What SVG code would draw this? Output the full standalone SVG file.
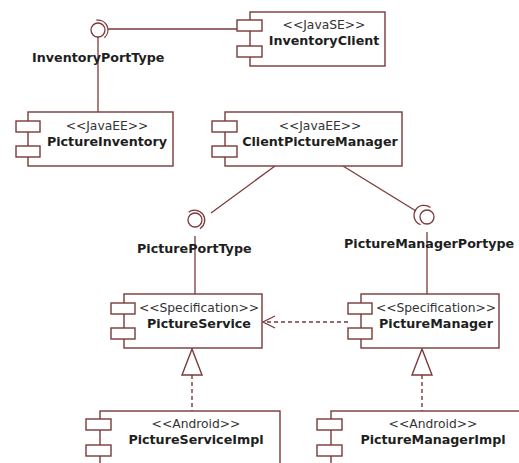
<svg xmlns="http://www.w3.org/2000/svg" width="519" height="463" viewBox="0 0 519 463">
<style>
.box{fill:#fff;stroke:#7a3a3a;stroke-width:1.4}
.ln{fill:none;stroke:#7a3a3a;stroke-width:1.3}
.dash{fill:none;stroke:#7a3a3a;stroke-width:1.4;stroke-dasharray:4 3}
.st{font-family:"DejaVu Sans",sans-serif;font-size:12.3px;fill:#333;text-anchor:middle}
.nm{font-family:"DejaVu Sans",sans-serif;font-size:12.7px;font-weight:bold;fill:#1e1e1e;text-anchor:middle}
.lb{font-family:"DejaVu Sans",sans-serif;font-size:12.7px;font-weight:bold;fill:#1e1e1e}
</style>
<rect width="519" height="463" fill="#fff"/>
<g id="connectors">
<line class="ln" x1="108" y1="29" x2="237" y2="29"/>
<line class="ln" x1="98" y1="37" x2="98" y2="112"/>
<line class="ln" x1="275" y1="166" x2="211" y2="213"/>
<line class="ln" x1="195" y1="236" x2="195" y2="294"/>
<line class="ln" x1="343" y1="166" x2="416" y2="211"/>
<line class="ln" x1="427" y1="232" x2="427" y2="294"/>
<line class="dash" x1="348" y1="322" x2="265" y2="322"/>
<polyline class="ln" points="275,316 263,322 275,328"/>
<line class="dash" x1="192" y1="375" x2="192" y2="411"/>
<polygon class="box" points="192,349 182,375 202,375"/>
<line class="dash" x1="422" y1="375" x2="422" y2="411"/>
<polygon class="box" points="422,349 412,375 432,375"/>
</g>
<g id="InventoryPortType">
<circle class="ln" cx="98" cy="30" r="7"/>
<path class="ln" d="M96.3,20.2 A10,10 0 0 1 104.4,37.7"/>
<text class="lb" x="32" y="62">InventoryPortType</text>
</g>
<g id="PicturePortType">
<circle class="ln" cx="195" cy="220" r="7"/>
<path class="ln" d="M188.6,212.3 A10,10 0 1 1 200,228.7"/>
<text class="lb" x="137" y="253">PicturePortType</text>
</g>
<g id="PictureManagerPortype">
<circle class="ln" cx="427" cy="217" r="7"/>
<path class="ln" d="M430.4,207.6 A10,10 0 1 0 420.6,224.7"/>
<text class="lb" x="344" y="248">PictureManagerPortype</text>
</g>
<g id="InventoryClient">
<rect class="box" x="250" y="12" width="135" height="54"/>
<rect class="box" x="237" y="20" width="25" height="11"/>
<rect class="box" x="237" y="46" width="25" height="11"/>
<text class="st" x="324" y="29">&lt;&lt;JavaSE&gt;&gt;</text>
<text class="nm" x="324" y="45">InventoryClient</text>
</g>
<g id="PictureInventory">
<rect class="box" x="28" y="112" width="145" height="54"/>
<rect class="box" x="16" y="121" width="24" height="11"/>
<rect class="box" x="16" y="146" width="24" height="11"/>
<text class="st" x="107" y="130">&lt;&lt;JavaEE&gt;&gt;</text>
<text class="nm" x="107" y="146">PictureInventory</text>
</g>
<g id="ClientPictureManager">
<rect class="box" x="225" y="112" width="177" height="54"/>
<rect class="box" x="212" y="121" width="25" height="11"/>
<rect class="box" x="212" y="146" width="25" height="11"/>
<text class="st" x="320" y="130">&lt;&lt;JavaEE&gt;&gt;</text>
<text class="nm" x="320" y="146">ClientPictureManager</text>
</g>
<g id="PictureService">
<rect class="box" x="124" y="294" width="138" height="54"/>
<rect class="box" x="111" y="303" width="24" height="11"/>
<rect class="box" x="111" y="328" width="24" height="11"/>
<text class="st" x="199" y="312">&lt;&lt;Specification&gt;&gt;</text>
<text class="nm" x="199" y="328">PictureService</text>
</g>
<g id="PictureManager">
<rect class="box" x="361" y="294" width="138" height="54"/>
<rect class="box" x="348" y="303" width="24" height="11"/>
<rect class="box" x="348" y="328" width="24" height="11"/>
<text class="st" x="436" y="312">&lt;&lt;Specification&gt;&gt;</text>
<text class="nm" x="436" y="328">PictureManager</text>
</g>
<g id="PictureServiceImpl">
<rect class="box" x="100" y="411" width="180" height="60"/>
<rect class="box" x="86" y="419" width="25" height="11"/>
<rect class="box" x="86" y="445" width="25" height="11"/>
<text class="st" x="196" y="428">&lt;&lt;Android&gt;&gt;</text>
<text class="nm" x="196" y="444">PictureServiceImpl</text>
</g>
<g id="PictureManagerImpl">
<rect class="box" x="331" y="411" width="200" height="60"/>
<rect class="box" x="317" y="419" width="25" height="11"/>
<rect class="box" x="317" y="445" width="25" height="11"/>
<text class="st" x="433" y="428">&lt;&lt;Android&gt;&gt;</text>
<text class="nm" x="433" y="444">PictureManagerImpl</text>
</g>
</svg>
